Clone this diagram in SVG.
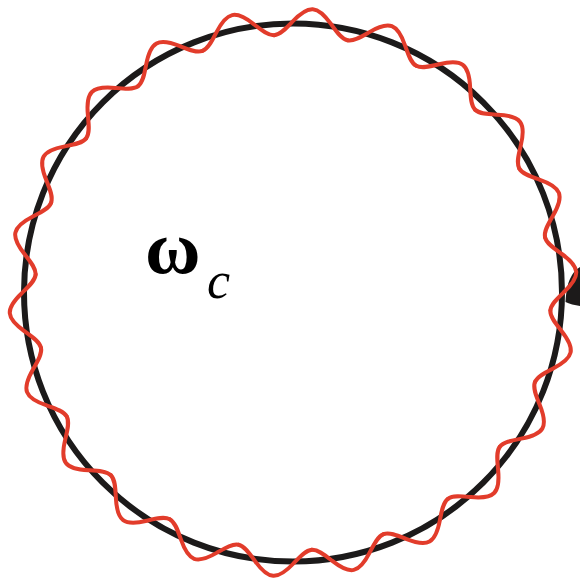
<svg xmlns="http://www.w3.org/2000/svg" xmlns:xlink="http://www.w3.org/1999/xlink" width="580" height="581" viewBox="0 0 580 581">
<style>
.ring{fill:none;stroke:#1c1a1a;stroke-width:6}
.wave{fill:none;stroke:#e23c2b;stroke-width:4;stroke-linecap:round;stroke-linejoin:round}
.lbl{font-family:"Liberation Serif","Times New Roman",serif;fill:#000}
</style>
<defs>
<path id="p" d="M -36.717 -255.374 C -30.639 -256.248 -25.281 -263.059 -19.333 -270.309 C -13.385 -277.559 -6.759 -284 0 -284 C 6.759 -284 13.385 -277.559 19.333 -270.309 C 25.281 -263.059 30.639 -256.248 36.717 -255.374"/>
</defs>
<rect width="580" height="581" fill="#fff"/>
<g id="ring">
<circle class="ring" cx="293" cy="292.5" r="269"/>
<path d="M 565.5 302 C 566 292 567.5 284 570 279 C 572.5 273 576 269 580 267 L 580 306 C 575 305 569 304 565.5 302 Z" fill="#1c1a1a"/>
</g>
<g id="wave" class="wave" transform="translate(293 292.5)">
<use xlink:href="#p" transform="rotate(4)"/>
<use xlink:href="#p" transform="rotate(20.3636)"/>
<use xlink:href="#p" transform="rotate(36.7273)"/>
<use xlink:href="#p" transform="rotate(53.0909)"/>
<use xlink:href="#p" transform="rotate(69.4545)"/>
<use xlink:href="#p" transform="rotate(85.8182)"/>
<use xlink:href="#p" transform="rotate(102.1818)"/>
<use xlink:href="#p" transform="rotate(118.5455)"/>
<use xlink:href="#p" transform="rotate(134.9091)"/>
<use xlink:href="#p" transform="rotate(151.2727)"/>
<use xlink:href="#p" transform="rotate(167.6364)"/>
<use xlink:href="#p" transform="rotate(184)"/>
<use xlink:href="#p" transform="rotate(200.3636)"/>
<use xlink:href="#p" transform="rotate(216.7273)"/>
<use xlink:href="#p" transform="rotate(233.0909)"/>
<use xlink:href="#p" transform="rotate(249.4545)"/>
<use xlink:href="#p" transform="rotate(265.8182)"/>
<use xlink:href="#p" transform="rotate(282.1818)"/>
<use xlink:href="#p" transform="rotate(298.5455)"/>
<use xlink:href="#p" transform="rotate(314.9091)"/>
<use xlink:href="#p" transform="rotate(331.2727)"/>
<use xlink:href="#p" transform="rotate(347.6364)"/>
</g>
<g id="label">
<text class="lbl" x="145" y="273" font-size="76" font-weight="bold">ω</text>
<text class="lbl" x="207" y="298" font-size="52" font-style="italic">c</text>
</g>
</svg>
